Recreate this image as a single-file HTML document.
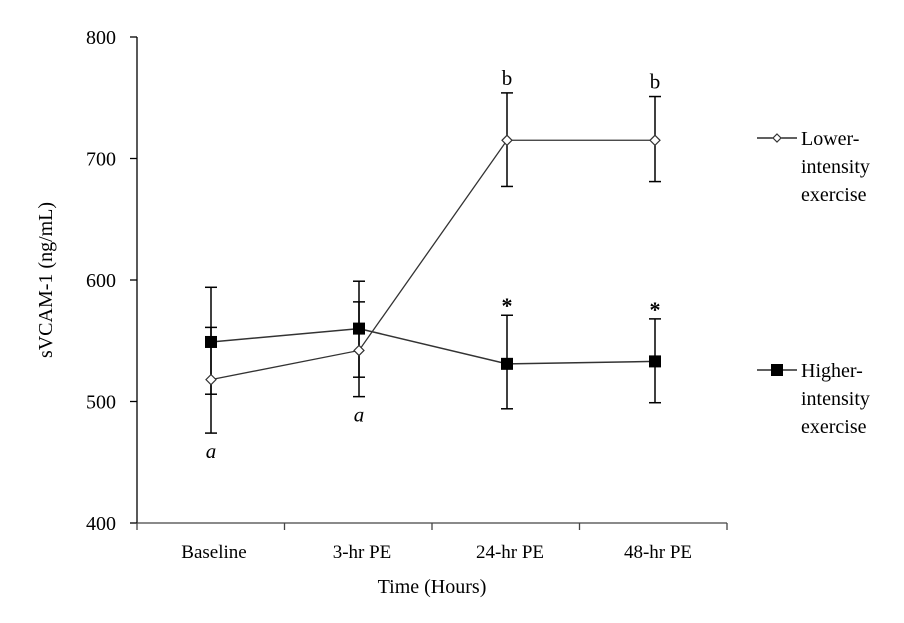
<!DOCTYPE html>
<html><head><meta charset="utf-8"><style>
body{margin:0;background:#fff;}
svg text{font-family:"Liberation Serif",serif;fill:#000;}
</style></head><body>
<svg width="904" height="618" xmlns="http://www.w3.org/2000/svg">
<g id="axes"></g><g id="plot"></g><g id="legend"></g>
</svg>
<script>
const categories = ["Baseline","3-hr PE","24-hr PE","48-hr PE"];
const yTicks = [400,500,600,700,800];
const lowerVals = [518,542,715,715];
const lowerHi = [561,582,754,751];
const lowerLo = [474,504,677,681];
const higherVals = [549,560,531,533];
const higherHi = [594,599,571,568];
const higherLo = [506,520,494,499];
const lowerNotes = ["a","a","b","b"];
const higherNotes = ["","","*","*"];

const NS="http://www.w3.org/2000/svg";
const y=v=>523-(v-400)*1.215;
const x=i=>211+i*148;
function mk(parent,tag,attrs,text){const e=document.createElementNS(NS,tag);for(const k in attrs)e.setAttribute(k,attrs[k]);if(text!==undefined)e.textContent=text;parent.appendChild(e);return e;}
const axes=document.getElementById('axes'),plot=document.getElementById('plot'),legend=document.getElementById('legend');

let e=mk(axes,'line',{x1:137,y1:37,x2:137,y2:523,stroke:'#000','stroke-width':1.3});

e=mk(axes,'line',{x1:137,y1:523,x2:727,y2:523,stroke:'#444','stroke-width':1.3});

yTicks.forEach(t=>{
 mk(axes,'line',{x1:130,y1:y(t),x2:137,y2:y(t),stroke:'#000','stroke-width':1.3});
 e=mk(axes,'text',{x:116,y:y(t)+7,'text-anchor':'end','font-size':20},t);
 
});
for(let i=0;i<=4;i++){mk(axes,'line',{x1:137+i*147.5,y1:523,x2:137+i*147.5,y2:530,stroke:'#444','stroke-width':1.3});}
categories.forEach((c,i)=>{
 e=mk(axes,'text',{x:x(i)+3,y:558,'text-anchor':'middle','font-size':19},c);
 
});
e=mk(axes,'text',{x:432,y:593,'text-anchor':'middle','font-size':20},'Time  (Hours)');

e=mk(axes,'text',{x:0,y:0,'text-anchor':'middle','font-size':20,transform:'translate(52,280) rotate(-90)'},'sVCAM-1 (ng/mL)');


function errs(vals,hi,lo,name){
 vals.forEach((v,i)=>{
  const g=mk(plot,'g',{});
  
  mk(g,'line',{x1:x(i),y1:y(hi[i]),x2:x(i),y2:y(lo[i]),stroke:'#000','stroke-width':1.5});
  mk(g,'line',{x1:x(i)-6,y1:y(hi[i]),x2:x(i)+6,y2:y(hi[i]),stroke:'#000','stroke-width':1.5});
  mk(g,'line',{x1:x(i)-6,y1:y(lo[i]),x2:x(i)+6,y2:y(lo[i]),stroke:'#000','stroke-width':1.5});
 });
}
errs(higherVals,higherHi,higherLo,'higher');
errs(lowerVals,lowerHi,lowerLo,'lower');
e=mk(plot,'polyline',{points:higherVals.map((v,i)=>x(i)+','+y(v)).join(' '),fill:'none',stroke:'#333','stroke-width':1.5});

e=mk(plot,'polyline',{points:lowerVals.map((v,i)=>x(i)+','+y(v)).join(' '),fill:'none',stroke:'#333','stroke-width':1.3});

higherVals.forEach((v,i)=>{
 e=mk(plot,'rect',{x:x(i)-6,y:y(v)-6,width:12,height:12,fill:'#000'});
 
});
lowerVals.forEach((v,i)=>{
 const cx=x(i),cy=y(v);
 e=mk(plot,'polygon',{points:`${cx},${cy-5} ${cx+5},${cy} ${cx},${cy+5} ${cx-5},${cy}`,fill:'#fff',stroke:'#333','stroke-width':1.2});
 
});
lowerNotes.forEach((n,i)=>{
 if(!n)return;
 const it=n==='a';
 const yy=it?y(lowerLo[i])+25:y(lowerHi[i])-8;
 e=mk(plot,'text',{x:x(i),y:yy,'text-anchor':'middle','font-size':21,'font-style':it?'italic':'normal'},n);
 
});
higherNotes.forEach((n,i)=>{
 if(!n)return;
 e=mk(plot,'text',{x:x(i),y:y(higherHi[i])-2,'text-anchor':'middle','font-size':22,'font-weight':'bold'},n);
 
});

function leg(yc,label,square,name){
 const g=mk(legend,'g',{});
 
 mk(g,'line',{x1:757,y1:yc,x2:797,y2:yc,stroke:'#000','stroke-width':1.3});
 if(square)mk(g,'rect',{x:771,y:yc-6,width:12,height:12,fill:'#000'});
 else mk(g,'polygon',{points:`777,${yc-4} 781,${yc} 777,${yc+4} 773,${yc}`,fill:'#fff',stroke:'#333','stroke-width':1.2});
 label.forEach((l,k)=>mk(g,'text',{x:801,y:yc+7+k*28,'font-size':20},l));
}
leg(138,['Lower-','intensity','exercise'],false,'legend-lower-intensity');
leg(370,['Higher-','intensity','exercise'],true,'legend-higher-intensity');
</script>
</body></html>
